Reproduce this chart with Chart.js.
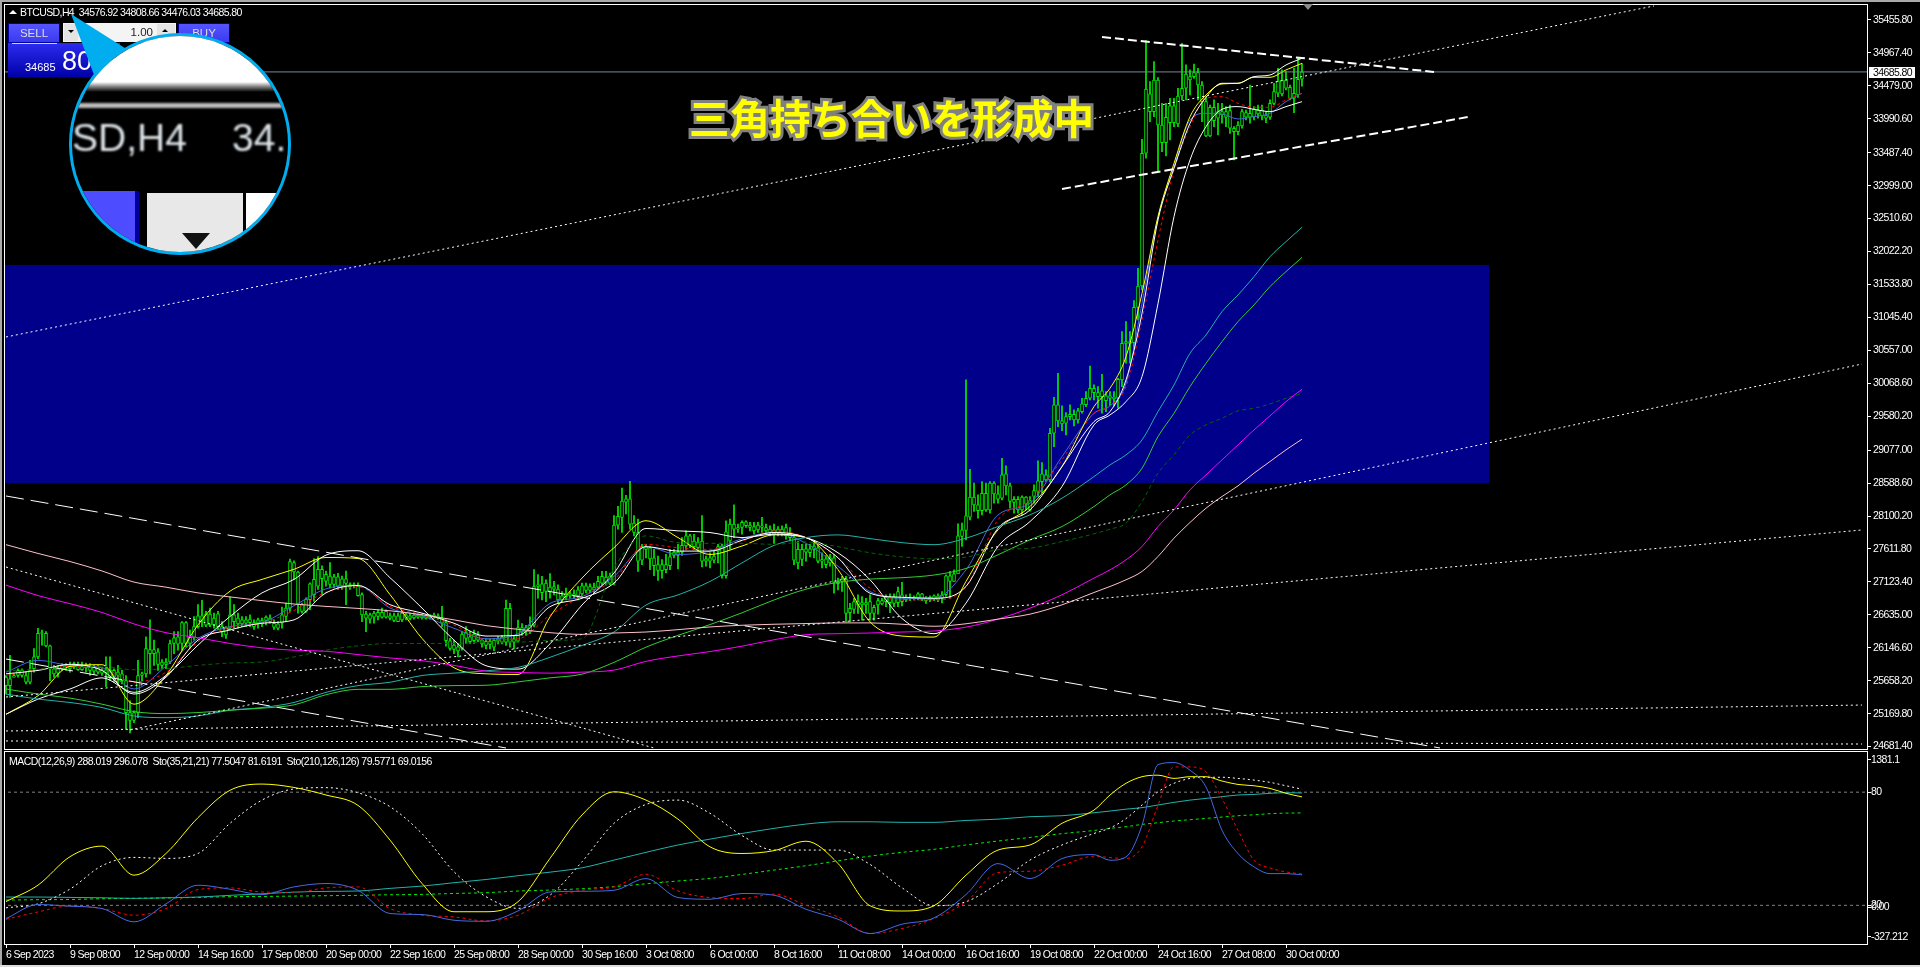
<!DOCTYPE html>
<html>
<head>
<meta charset="utf-8">
<title>BTCUSD H4</title>
<script src="https://cdn.jsdelivr.net/npm/chart.js@4"></script>
<style>
html, body { margin: 0; padding: 0; background: #000; overflow: hidden; }
#page { position: relative; width: 1920px; height: 967px; background: #000; overflow: hidden; font-family: "Liberation Sans", sans-serif; color: #fff; }
canvas { position: absolute; left: 0; display: block; }
#mainChart { top: 0; }
#subChart { top: 750px; }
.abs { position: absolute; white-space: pre; }
#bandTop { left: 0; top: 0; width: 1920px; height: 2px; background: #a9a9a9; }
#bandLeft { left: 0; top: 0; width: 2px; height: 967px; background: #a9a9a9; }
#bandBottom { left: 0; top: 965px; width: 1920px; height: 2px; background: #dcdcdc; }
#symbolArrow { left: 9px; top: 10px; width: 0; height: 0; border-left: 4px solid transparent; border-right: 4px solid transparent; border-bottom: 4px solid #fff; }
#shiftMark { left: 1303px; top: 4px; width: 0; height: 0; border-left: 5px solid transparent; border-right: 5px solid transparent; border-top: 6px solid #8a8a8a; }
#symbolText { left: 20px; top: 6px; font-size: 10.5px; line-height: 13px; letter-spacing: -0.6px; }
#subText { left: 9px; top: 755px; font-size: 10.5px; line-height: 13px; letter-spacing: -0.55px; }
#note { left: 689px; top: 92px; font: 700 40.5px "Noto Sans CJK JP", sans-serif; line-height: 50px; color: #ffff00; -webkit-text-stroke: 6px #808080; paint-order: stroke fill; }
#sellBtn, #buyBtn { top: 23px; width: 52px; height: 20px; background: linear-gradient(#5555ff, #3a3af0); border: 1px solid #0000a0; box-sizing: border-box; text-align: center; font-size: 11.5px; line-height: 18px; color: #ddd; }
#sellBtn { left: 8px; }
#buyBtn { left: 178px; }
#sellArea { left: 8px; top: 43px; width: 112px; height: 34px; background: linear-gradient(#2c2cf0, #0000a8); }
#sellLine { left: 12px; top: 43px; width: 45px; height: 1px; background: #cfd0ff; }
#lotBox { left: 63px; top: 23px; width: 113px; height: 19px; background: #f4f4f4; color: #222; font-size: 11.5px; line-height: 19px; text-align: right; box-sizing: border-box; padding-right: 23px; }
#lotDown { left: 64px; top: 24px; width: 14px; height: 17px; background: #e4e4e4; }
#lotDownArrow { left: 68px; top: 30px; width: 0; height: 0; border-left: 3px solid transparent; border-right: 3px solid transparent; border-top: 3px solid #000; }
#lotUp { left: 157px; top: 24px; width: 18px; height: 17px; background: #e4e4e4; }
#lotUpArrow { left: 162px; top: 29px; width: 0; height: 0; border-left: 3px solid transparent; border-right: 3px solid transparent; border-bottom: 3px solid #000; }
#bidSmall { left: 25px; top: 61px; font-size: 11px; line-height: 13px; }
#bidBig { left: 62px; top: 46px; font-size: 27px; line-height: 30px; }
#pointer { left: 0; top: 0; }
#lens { left: 69px; top: 33px; width: 222px; height: 222px; box-sizing: border-box; border: 3px solid #00aeef; border-radius: 50%; overflow: hidden; background: #000; }
#lens div { position: absolute; }
#lensWhite { left: 0; top: 0; width: 222px; height: 56px; background: linear-gradient(#fff 0, #fff 82%, #888 90%, #000 100%); }
#lensRule { left: 0; top: 67px; width: 222px; height: 5px; background: #bbb; filter: blur(1px); }
#lensText1, #lensText2 { top: 78px; font-size: 39px; line-height: 48px; color: #dfe6ea; filter: blur(0.8px); white-space: pre; }
#lensText1 { left: 0; }
#lensText2 { left: 160px; }
#lensBlue { left: 0; top: 155px; width: 63px; height: 70px; background: #4d4dff; border-right: 4px solid #0000a0; }
#lensBox1 { left: 75px; top: 157px; width: 96px; height: 70px; background: #e8e8e8; }
#lensBox2 { left: 174px; top: 157px; width: 50px; height: 70px; background: #fff; }
#lensArrow { left: 110px; top: 197px; width: 0; height: 0; border-left: 14px solid transparent; border-right: 14px solid transparent; border-top: 16px solid #111; }
</style>
</head>
<body>
<div id="page">
  <canvas id="mainChart" width="1920" height="756"></canvas>
  <canvas id="subChart" width="1920" height="217"></canvas>
  <div class="abs" id="bandTop"></div>
  <div class="abs" id="bandLeft"></div>
  <div class="abs" id="bandBottom"></div>
  <div class="abs" id="symbolArrow"></div>
  <div class="abs" id="shiftMark"></div>
  <div class="abs" id="symbolText">BTCUSD,H4  34576.92 34808.66 34476.03 34685.80</div>
  <div class="abs" id="subText">MACD(12,26,9) 288.019 296.078  Sto(35,21,21) 77.5047 81.6191  Sto(210,126,126) 79.5771 69.0156</div>
  <div class="abs" id="note">三角持ち合いを形成中</div>
  <div class="abs" id="sellArea"></div>
  <div class="abs" id="sellBtn">SELL</div>
  <div class="abs" id="sellLine"></div>
  <div class="abs" id="buyBtn">BUY</div>
  <div class="abs" id="lotBox">1.00</div>
  <div class="abs" id="lotDown"></div>
  <div class="abs" id="lotDownArrow"></div>
  <div class="abs" id="lotUp"></div>
  <div class="abs" id="lotUpArrow"></div>
  <div class="abs" id="bidSmall">34685</div>
  <div class="abs" id="bidBig">80</div>
  <svg class="abs" id="pointer" width="300" height="120"><polygon points="71,14 128,50 96,80" fill="#00aeef"/></svg>
  <div class="abs" id="lens">
    <div id="lensWhite"></div>
    <div id="lensRule"></div>
    <div id="lensText1">SD,H4</div>
    <div id="lensText2">34.</div>
    <div id="lensBlue"></div>
    <div id="lensBox1"></div>
    <div id="lensBox2"></div>
    <div id="lensArrow"></div>
  </div>
</div>
<script>
// candles, one per 4h bar
const opens = [
25710,25585,25710,25735,25810,25735,25635,25835,26010,26360,
26360,26175,25835,25770,25835,25885,25870,25860,25885,25820,
25885,25860,25860,25850,25820,25770,25810,25710,25785,25760,
25660,25185,25070,25185,25735,25760,26120,26060,26085,25885,
25935,25935,26210,26310,26210,26520,26210,26300,26460,26620,
26480,26645,26485,26650,26460,26335,26435,26635,26500,26560,
26510,26520,26520,26510,26550,26550,26585,26510,26435,26510,
26610,26735,27410,27270,26785,26685,26860,26935,27060,27310,
27135,27210,27085,27200,27060,27170,27085,27070,27060,26935,
26585,26635,26600,26610,26670,26600,26620,26620,26535,26560,
26635,26580,26590,26630,26590,26620,26590,26600,26620,26585,
26520,26250,26120,26160,26135,26370,26235,26250,26335,
26265,26180,26240,26155,26245,26230,26230,26730,26230,26245,26445,
26380,26380,26480,27055,27095,26980,27045,27015,27015,26855,
26905,26945,26915,26915,26945,27065,26995,27045,27045,27105,
27195,27105,27105,27965,28080,28305,28355,27995,27855,27445,
27645,27630,27480,27380,27290,27380,27365,27515,27565,27565,
27655,27805,27645,27715,27730,27430,27430,27445,27580,27655,
27215,27730,27980,27905,27930,28015,27965,27945,27895,27955,
27930,27855,27895,27855,27905,27805,27855,27780,27405,27605,
27565,27615,27605,27630,27430,27465,27405,27480,27095,27130,
27165,26665,26715,26830,26780,26815,26830,26655,26780,26845,
26830,26895,26805,26815,26930,26855,26895,26875,26880,26945,
26880,26855,26865,26915,26880,26932,27213,27129,27243,27796,
27885,28083,28379,28266,28181,28438,28191,28587,28429,28364,
28725,28547,28300,28349,28191,28379,28330,28389,28463,28611,
28710,28636,29328,29748,29510,29476,29575,29609,29525,29649,
29752,29846,29995,29930,29871,29881,29846,29861,29846,30118,
30661,30686,30671,31195,31511,33479,34359,34097,34566,33899,
33637,33934,34181,33914,34329,34443,34616,34616,34675,34492,
34245,33736,34161,33998,34097,34013,34111,33850,33800,33884,
34082,34013,34023,34121,34032,34047,34013,34220,34369,34566,
34443,34457,34294,34344,34576.92]
const closes = [
25585,25685,25735,25810,25735,25635,25810,26010,26360,26370,
26175,25835,25760,25835,25885,25860,25835,25910,25820,25870,
25850,25810,25800,25785,25770,25820,25710,25810,25735,25660,
25185,25070,25185,25735,25760,26135,26060,26120,25900,25935,
25900,26210,26295,26200,26520,26210,26300,26460,26620,26550,
26645,26480,26585,26460,26385,26435,26635,26535,26585,26500,
26560,26570,26460,26560,26500,26600,26535,26450,26500,26635,
26735,27425,27270,26785,26685,26870,27095,27160,27310,27170,
27235,27085,27200,27060,27170,27100,27050,27085,26920,26635,
26645,26570,26660,26670,26600,26685,26585,26550,26620,26660,
26585,26620,26630,26600,26620,26580,26620,26630,26585,26510,
26250,26135,26185,26100,26350,26285,26310,26350,26260,
26205,26240,26195,26255,26280,26305,26730,26230,26280,26445,26380,
26445,26480,27055,27080,26965,27105,26980,27055,26855,26915,
26945,26915,26945,27005,27065,26995,27055,27005,27130,27205,
27115,27205,27965,28095,28320,28355,27980,27855,27430,27645,
27605,27465,27365,27295,27380,27305,27495,27565,27515,27665,
27805,27665,27730,27630,27430,27465,27480,27505,27645,27215,
27865,27980,27905,27930,28005,27955,27930,27880,27965,27930,
27880,27905,27830,27905,27845,27930,27780,27445,27605,27455,
27615,27555,27655,27430,27455,27380,27480,27115,27130,27165,
26655,26730,26830,26780,26815,26780,26655,26745,26845,26795,
26895,26815,26905,26980,26830,26895,26875,26895,26945,26865,
26845,26895,26915,26855,26930,27213,27129,27243,27806,27895,
28102,28379,28266,28181,28438,28191,28587,28429,28349,28710,
28547,28315,28349,28191,28379,28280,28191,28478,28621,28725,
28636,29328,29748,29510,29466,29575,29609,29525,29659,29762,
29846,29995,29930,29871,29955,29812,29881,29841,30128,30661,
30686,30661,31195,31511,33479,34433,34097,34566,33899,33637,
34013,34181,33934,34329,34443,34655,34566,34675,34492,34245,
33736,34161,33963,34097,34047,34097,33850,33800,33899,34097,
34013,34072,34131,34062,34121,33998,34220,34393,34551,34359,
34566,34294,34369,34576,34685.80]
const highs = [
25735,26035,25760,25835,25835,25785,25960,26135,26435,26410,
26385,26185,25885,25885,25910,25910,25935,25935,25935,25935,
25920,25910,25885,25885,25860,26010,26010,25835,25885,25810,
25735,25360,25210,25960,25785,26310,26560,26260,26135,25970,
25985,26260,26385,26385,26535,26535,26410,26610,26785,26850,
26685,26735,26660,26685,26535,26460,26900,26785,26660,26610,
26610,26635,26560,26585,26585,26620,26635,26560,26535,26750,
26810,27460,27435,27285,26810,26885,27110,27470,27500,27360,
27285,27410,27235,27250,27210,27285,27110,27110,27110,26960,
26685,26660,26685,26710,26735,26710,26660,26660,26660,26685,
26670,26660,26660,26650,26650,26640,26640,26660,26650,26760,
26560,26285,26260,26210,26385,26460,26385,26410,26385,
26280,26280,26280,26280,26315,26330,26855,26805,26330,26555,26505,
26480,26605,27305,27230,27205,27155,27245,27130,27080,26980,
27030,26980,27005,27055,27105,27105,27095,27105,27205,27280,
27280,27255,28105,28245,28515,28405,28615,28105,28055,27680,
27680,27655,27605,27505,27455,27530,27605,27605,27680,27780,
27880,27830,27830,27780,28105,27505,27555,27580,27680,27680,
28030,28055,28265,27980,28030,28030,28005,28005,28005,28080,
27980,27955,27980,27945,27955,27980,27930,27830,27730,27680,
27680,27680,27705,27680,27555,27515,27530,27530,27180,27205,
27205,26805,26880,26930,26905,26880,26930,26780,26880,26880,
26930,26945,26945,27045,27115,26930,26945,26915,26965,26955,
26905,26915,26930,26945,26980,27228,27278,27302,27984,27994,
30118,28794,28587,28414,28611,28587,28610,28611,28547,28957,
28843,28587,28389,28389,28399,28389,28389,28562,28918,28893,
28784,29402,29861,30217,29733,29634,29748,29673,29698,29846,
29945,30325,30044,30019,30202,29945,29945,29945,30143,30834,
30983,30834,31294,31773,33686,35150,34542,34838,34600,34220,
34220,34294,34294,34443,35110,34789,34715,34803,34739,34542,
34319,34195,34270,34220,34220,34171,34195,33874,33948,34131,
34121,34492,34171,34195,34195,34097,34270,34517,34739,34715,
34690,34492,34739,34902,34808.66]
const lows = [
25460,25410,25710,25710,25710,25610,25610,25785,25985,26185,
26160,25660,25710,25710,25810,25810,25785,25835,25810,25810,
25785,25735,25760,25760,25735,25570,25660,25635,25585,25610,
24935,24885,25035,25110,25660,25710,25760,25885,25810,25835,
25835,25910,26060,26110,26110,26160,26135,26260,26435,26460,
26460,26460,26435,26410,26310,26285,26410,26435,26435,26460,
26460,26460,26420,26435,26460,26485,26510,26420,26410,26435,
26535,26685,27160,26660,26660,26670,26710,26835,27010,26935,
27060,27035,27035,27010,27010,26785,27010,27035,26910,26535,
26385,26510,26510,26560,26585,26585,26560,26535,26535,26535,
26560,26560,26570,26580,26570,26570,26570,26580,26570,26460,
26170,26110,26060,26010,26110,26210,26210,26210,26235,
26155,26130,26130,26105,26205,26205,26180,26155,26130,26230,26330,
26330,26355,26455,26880,26855,26830,26880,26930,26805,26830,
26855,26880,26880,26855,26905,26965,26965,26955,27030,27080,
27080,27080,27080,27905,27855,28130,27905,27805,27280,27380,
27480,27305,27215,27145,27180,27255,27305,27480,27315,27515,
27605,27630,27605,27580,27345,27355,27330,27405,27405,27180,
27180,27605,27780,27855,27830,27930,27880,27830,27855,27855,
27830,27805,27695,27805,27805,27755,27730,27380,27315,27365,
27430,27495,27480,27405,27330,27330,27355,26955,27005,26980,
26530,26530,26655,26655,26555,26655,26555,26555,26645,26780,
26755,26665,26755,26755,26765,26830,26845,26855,26855,26845,
26805,26830,26845,26830,26810,26907,26882,27129,27253,27648,
27747,28043,28167,28068,28117,28167,28142,28290,28290,28340,
28414,28216,28142,28142,28117,28191,28170,28290,28389,28438,
28611,28611,29130,29426,29367,29303,29525,29436,29476,29624,
29723,29822,29822,29698,29624,29649,29733,29733,29698,30019,
30365,30365,30587,31007,31452,33405,33948,34022,33207,33504,
33440,33677,33874,33874,34270,34270,34344,34591,34270,33948,
33726,33726,33874,33751,33924,33874,33775,33380,33751,33850,
33973,33924,33973,33998,33973,33934,33983,34195,34319,34329,
34418,34270,34082,34309,34476.03]

// bar numbers the indicator readings below were taken at
const lineBars = [0,8,16,24,32,40,48,56,64,72,80,88,96,104,112,120,128,136,144,152,160,168,176,184,192,200,208,216,224,232,240,248,256,264,272,276,280,284,288,292,296,300,304,308,312,316,320,324]

const yellowMa = [25160,25435,25870,25895,25310,25735,26485,26985,27160,27310,27485,27470,26935,26285,25850,25760,25750,26605,27180,27630,28030,27780,27530,27655,27820,27780,27305,26530,26320,26305,27130,27895,28240,28834,29723,29995,30464,31400,32540,33330,34022,34344,34507,34517,34606,34606,34715,34813]
const blueMa = [25785,25960,25885,25850,25535,25875,26285,26460,26520,26770,27020,27070,26735,26620,26435,26280,26355,26805,26905,27205,27645,27530,27580,27765,27855,27695,27355,26980,26880,26880,27302,28117,28290,28982,29624,29733,30069,31254,32540,33281,33973,34072,34062,33988,34023,34072,34245,34369]
const redMa = [25735,25820,25870,25850,25635,25785,26235,26450,26510,26700,26970,27050,26760,26635,26485,26265,26280,26630,26915,27155,27680,27630,27605,27730,27880,27780,27480,27030,26855,26855,27055,28043,28340,28932,29624,29733,30019,31007,32194,33232,33874,34294,34319,34220,34161,34161,34270,34369]
const whiteSlow = [25160,25385,25535,25700,25485,25735,26185,26610,26960,27160,27520,27585,27185,26735,26260,25880,25830,26205,26780,27255,27915,27880,27855,27780,27830,27780,27555,27155,26580,26355,26808,27648,28018,28537,29451,29599,29797,30167,31250,32540,33380,33874,34131,34171,34131,34097,34171,34245]
const whiteFast = [25760,25810,25900,25810,25460,25710,26260,26410,26510,26560,26960,27070,26785,26660,26510,26320,26330,26755,26880,27105,27645,27580,27580,27740,27855,27780,27480,26955,26895,26880,27055,27920,28190,28834,29500,29649,30118,31106,32490,33256,33924,34309,34517,34517,34616,34640,34789,34888]
const tealMa = [25460,25385,25335,25260,25135,25110,25135,25220,25260,25335,25485,25585,25635,25735,25770,25805,25855,26005,26180,26380,26780,26930,27130,27405,27665,27780,27820,27765,27705,27675,27771,27944,28117,28364,28685,28858,29007,29229,29649,30044,30513,30785,31131,31378,31650,31946,32169,32382]
const greenMa = [25535,25460,25400,25310,25200,25170,25185,25220,25250,25300,25450,25530,25530,25570,25585,25590,25640,25700,25755,25930,26155,26330,26490,26665,26855,27015,27115,27165,27185,27225,27322,27525,27747,27944,28241,28414,28562,28809,29278,29624,30019,30365,30686,30982,31230,31502,31724,31936]
const darkGreenMa = [25800,25830,25850,25870,25820,25835,25885,25920,25935,26010,26110,26175,26210,26210,26210,26230,26230,26255,26280,27330,27805,27705,27695,27695,27680,27715,27645,27555,27495,27465,27490,27599,27623,27722,27836,27905,27994,28315,28735,29007,29303,29451,29550,29659,29698,29762,29846,29920]
const magentaMa = [27075,26920,26800,26670,26500,26370,26295,26210,26145,26110,26095,26045,25995,25955,25885,25800,25780,25770,25785,25815,25945,26025,26090,26170,26265,26340,26355,26365,26380,26395,26452,26571,26734,26932,27179,27302,27450,27648,27944,28191,28488,28710,28932,29155,29377,29585,29797,29980]
const pinkMa = [27675,27545,27425,27285,27120,27045,26960,26900,26845,26795,26760,26730,26695,26635,26560,26475,26420,26370,26345,26365,26380,26415,26455,26480,26495,26505,26515,26515,26495,26465,26502,26571,26645,26783,26966,27055,27154,27278,27500,27771,28004,28216,28389,28547,28735,28908,29081,29239]

const stoFastMain = [22,30.7,45.8,51.4,36,47.5,66.5,81,84.3,82.5,78.5,73,54.6,31.6,16.6,16.6,21.9,44.9,67.9,80.2,75.8,65.7,51,47.5,49,54,42.2,19.8,17,19.8,36,49.3,52,63.5,70.5,78.5,84.7,88.2,89,87.3,88.2,88.2,85.9,84.1,83.4,82,79.4,77.5]
const stoFastSignal = [18.7,20.8,28.6,41,45.4,44.9,47.5,63.5,75.8,81.7,82.4,79.7,72.3,58,37.8,24.6,18.4,25.4,43.1,63.5,73.5,75.8,68.8,57,49.3,49.3,49.3,41.7,29.3,19.8,21.9,31.6,44,52,58.1,61,66,73.2,80.2,84.7,87.3,87.9,87.9,87.3,86.4,85.2,83.4,81.6]
const stoSlowMain = [24.4,24.4,24.2,24,23.7,24,24.4,25.3,26.1,27,27.4,27.6,29,30.2,32,33.7,35.7,37.6,39.9,44,48.1,52,55.1,58.1,60.8,63.1,64.3,64.3,64,64,65,65.7,67,67.5,69.1,70,71,71.8,73.2,74.6,75.8,76.7,77.6,78.5,78.8,79.4,79.7,79.6]
const stoSlowSignal = [22.8,23,23.1,23.5,23.7,23.9,24.2,24.6,24.7,24.9,25.1,25.3,25.6,25.8,26.3,26.7,27.6,28.1,28.8,29.9,31.4,32.9,34.3,36.4,38.7,41,43.6,46.1,48.1,49.7,52,54.1,56,58,59.7,60.8,61.7,62.9,63.8,64.7,65.4,66.1,66.8,67.5,68,68.6,68.9,69]
const macdMain = [-101,24,9,-12,-130,30,196,160,113,181,211,151,-56,-65,-116,-125,-33,136,142,151,255,86,71,122,107,-18,-107,-234,-151,-95,113,388,255,433,468,418,448,729,1269,1287,1219,1070,685,477,359,299,299,288]
const macdSignal = [-107,-42,12,-12,-71,-12,157,172,136,133,172,181,-12,-71,-86,-122,-71,83,151,181,294,145,86,77,116,18,-86,-234,-190,-101,47,308,320,374,454,442,433,537,907,1248,1248,1204,967,685,418,350,314,296]

// hand drawn trend lines: [bar, price, bar, price]
const dottedLines = [
  [0, 30755, 412, 35664],
  [31, 24927, 464, 30354],
  [0, 25416, 464, 27893],
  [0, 24912, 464, 25297],
  [0, 24764, 464, 24719],
  [0, 27344, 162, 24660]
]
const dashedLines = [
  [0, 28397, 358.5, 24660],
  [0, 25979, 125, 24660]
]
const triangleLines = [
  [274, 35204, 357, 34685],
  [264, 32950, 365.5, 34017]
]

const lastPrice = 34685.80
const zoneFrom = 28590
const zoneTo = 31823
const zoneEndBar = 370.75

const priceTicks = [35455.80,34967.40,34479.00,33990.60,33487.40,32999.00,32510.60,32022.20,31533.80,31045.40,30557.00,30068.60,29580.20,29077.00,28588.60,28100.20,27611.80,27123.40,26635.00,26146.60,25658.20,25169.80,24681.40]
const subTicks = [97.2, 80, 20, 19, 3.4]
const subTickLabels = ['1381.1', '80', '20', '0.00', '-327.212']
const timeTickBars = [0,16,32,48,64,80,96,112,128,144,160,176,192,208,224,240,256,272,288,304,320]
const timeLabels = ['6 Sep 2023','9 Sep 08:00','12 Sep 00:00','14 Sep 16:00','17 Sep 08:00','20 Sep 00:00','22 Sep 16:00','25 Sep 08:00','28 Sep 00:00','30 Sep 16:00','3 Oct 08:00','6 Oct 00:00','8 Oct 16:00','11 Oct 08:00','14 Oct 00:00','16 Oct 16:00','19 Oct 08:00','22 Oct 00:00','24 Oct 16:00','27 Oct 08:00','30 Oct 00:00']

const axisFont = { family: 'Liberation Sans', size: 10.5 }
const candleGreen = '#00f000'

function series(values, color, dash, order) {
    return {
        type: 'line',
        data: lineBars.map((bar, i) => ({ x: bar, y: values[i] })),
        borderColor: color,
        borderWidth: 1,
        borderDash: dash || [],
        pointRadius: 0,
        cubicInterpolationMode: 'monotone', // these are smooth curves in the picture
        order: order || 10
    }
}

function segment(line, color, width, dash) {
    return {
        type: 'line',
        data: [{ x: line[0], y: line[1] }, { x: line[2], y: line[3] }],
        borderColor: color,
        borderWidth: width,
        borderDash: dash,
        pointRadius: 0,
        order: 5
    }
}

// keep the plot area where it is, no room for half a tick label
function fixAxis(scale, size) {
    if (scale.isHorizontal()) scale.height = size
    else scale.width = size
    scale.paddingTop = 0
    scale.paddingBottom = 0
    scale.paddingLeft = 0
    scale.paddingRight = 0
}

// the terminal font is narrower than anything installed
const tightTextPlugin = {
    id: 'tightText',
    beforeDraw(chart) { chart.ctx.letterSpacing = '-0.6px' }
}

// white frame round each pane
const framePlugin = {
    id: 'frame',
    afterDraw(chart) {
        const a = chart.chartArea
        const ctx = chart.ctx
        ctx.save()
        ctx.strokeStyle = '#ffffff'
        ctx.lineWidth = 1
        ctx.strokeRect(a.left - 0.5, a.top - 0.5, a.width + 1, a.height + 1)
        ctx.restore()
    }
}

// blue supply zone behind the candles
const zonePlugin = {
    id: 'zone',
    beforeDatasetsDraw(chart) {
        const x = chart.scales.x
        const y = chart.scales.y
        const left = chart.chartArea.left
        const top = y.getPixelForValue(zoneTo)
        chart.ctx.fillStyle = '#00008b'
        chart.ctx.fillRect(left, top, x.getPixelForValue(zoneEndBar) - left, y.getPixelForValue(zoneFrom) - top)
    }
}

// white box with the current price on the axis
const pricePlugin = {
    id: 'priceBox',
    afterDraw(chart) {
        const ctx = chart.ctx
        const py = Math.round(chart.scales.y.getPixelForValue(lastPrice))
        ctx.save()
        ctx.fillStyle = '#ffffff'
        ctx.fillRect(1869, py - 5, 46, 11)
        ctx.fillStyle = '#000000'
        ctx.font = '10.5px "Liberation Sans"'
        ctx.textBaseline = 'middle'
        ctx.fillText(lastPrice.toFixed(2), 1873, py + 1)
        ctx.restore()
    }
}

const barAxis = {
    type: 'linear',
    min: -0.25,
    max: 465.25,
    offset: false,
    grid: { display: false },
    border: { display: false }
}

const mainChart = new Chart(document.getElementById('mainChart'), {
    type: 'bar',
    data: {
        datasets: [
            {
                // wicks
                data: opens.map((o, i) => ({ x: i, y: [lows[i], highs[i]] })),
                backgroundColor: candleGreen,
                barThickness: 1,
                grouped: false,
                order: 30
            },
            {
                // bodies, hollow
                data: opens.map((o, i) => ({ x: i, y: [o, closes[i]] })),
                backgroundColor: '#000000',
                borderColor: candleGreen,
                borderWidth: 1,
                borderSkipped: false,
                barThickness: 3,
                grouped: false,
                order: 29
            },
            series(pinkMa, '#ffc0cb'),
            series(magentaMa, '#ff00ff'),
            series(darkGreenMa, '#006400', [4, 3]),
            series(greenMa, '#32cd32'),
            series(tealMa, '#20b2aa'),
            series(whiteSlow, '#ffffff'),
            series(whiteFast, '#ffffff'),
            series(yellowMa, '#ffff00'),
            series(redMa, '#ff0000', [3, 3]),
            series(blueMa, '#4169e1'),
            ...dottedLines.map(l => segment(l, '#ffffff', 1, [2, 3])),
            ...dashedLines.map(l => segment(l, '#ffffff', 1, [18, 7])),
            ...triangleLines.map(l => segment(l, '#ffffff', 2, [9, 4])),
            segment([-1, lastPrice, 466, lastPrice], '#778899', 1, [])
        ]
    },
    options: {
        responsive: false,
        animation: false,
        events: [],
        layout: { padding: { left: 5, top: 5, bottom: 7, right: 0 } },
        plugins: { legend: { display: false }, tooltip: { enabled: false } },
        scales: {
            x: { ...barAxis, display: false },
            y: {
                position: 'right',
                min: 24645,
                max: 35678,
                grid: { drawOnChartArea: false, color: '#ffffff', tickLength: 4 },
                border: { display: false },
                ticks: {
                    color: '#ffffff',
                    font: axisFont,
                    padding: 2,
                    autoSkip: false,
                    callback: value => value.toFixed(2)
                },
                afterBuildTicks(scale) { scale.ticks = priceTicks.map(v => ({ value: v })) },
                afterFit(scale) { fixAxis(scale, 53) }
            }
        }
    },
    plugins: [tightTextPlugin, zonePlugin, framePlugin, pricePlugin]
})

const subChart = new Chart(document.getElementById('subChart'), {
    type: 'line',
    data: {
        datasets: [
            { ...segment([-1, 80, 466, 80], '#808080', 1, [3, 3]), order: 20 },
            { ...segment([-1, 20, 466, 20], '#808080', 1, [3, 3]), order: 20 },
            { ...series(stoSlowMain, '#20b2aa'), order: 12 },
            { ...series(stoSlowSignal, '#00ee00', [3, 3]), order: 12 },
            { ...series(stoFastMain, '#ffff00'), order: 11 },
            { ...series(stoFastSignal, '#ffffff', [2, 3]), order: 11 },
            { ...series(macdSignal, '#ff0000', [3, 3]), yAxisID: 'macd', order: 10 },
            { ...series(macdMain, '#4169e1'), yAxisID: 'macd', order: 9 }
        ]
    },
    options: {
        responsive: false,
        animation: false,
        events: [],
        layout: { padding: { left: 5, top: 2, bottom: 0, right: 0 } },
        plugins: { legend: { display: false }, tooltip: { enabled: false } },
        scales: {
            x: {
                ...barAxis,
                position: 'bottom',
                grid: { drawOnChartArea: false, color: '#ffffff', tickLength: 4 },
                ticks: {
                    color: '#ffffff',
                    font: axisFont,
                    align: 'start',
                    padding: 1,
                    maxRotation: 0,
                    autoSkip: false,
                    callback: (value, index) => timeLabels[index]
                },
                afterBuildTicks(scale) { scale.ticks = timeTickBars.map(v => ({ value: v })) },
                afterFit(scale) { fixAxis(scale, 23) }
            },
            y: {
                position: 'right',
                min: -0.5,
                max: 101.3,
                grid: { drawOnChartArea: false, color: '#ffffff', tickLength: 4 },
                border: { display: false },
                ticks: {
                    color: '#ffffff',
                    font: axisFont,
                    padding: 0,
                    autoSkip: false,
                    callback: (value, index) => subTickLabels[index]
                },
                afterBuildTicks(scale) { scale.ticks = subTicks.map(v => ({ value: v })) },
                afterFit(scale) { fixAxis(scale, 53) }
            },
            macd: { display: false, min: -327.212, max: 1381.1 }
        }
    },
    plugins: [tightTextPlugin, framePlugin]
})
</script>
</body>
</html>
